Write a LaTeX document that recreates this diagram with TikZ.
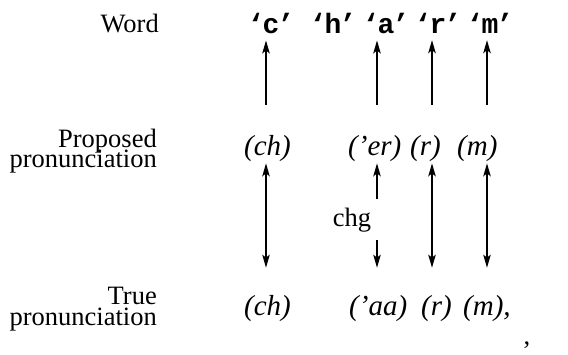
\documentclass[tikz,border=0pt]{standalone}
\usepackage{fontspec}
\setmainfont{Liberation Serif}
\setmonofont{Liberation Mono}
\usetikzlibrary{arrows.meta}
% a quoted character of the word, quotes set a little tighter
\newcommand\quotedchar[1]{‘\kern-1.8pt #1\kern-1.8pt ’}
\begin{document}
\begin{tikzpicture}[x=1pt,y=-1pt,
  rowlabel/.style={font=\fontsize{26.5}{26.5}\selectfont, inner sep=0pt, anchor=base east},
  letter/.style={font=\fontsize{28}{28}\selectfont\ttfamily\bfseries, inner sep=0pt, anchor=base},
  phone/.style={font=\fontsize{29}{29}\selectfont\itshape, inner sep=0pt, anchor=base west},
  note/.style={font=\fontsize{26.5}{26.5}\selectfont, inner sep=0pt, anchor=base},
  tip/.tip={Stealth[length=13pt,width=7.5pt,inset=3pt]},
  upline/.style={line width=1.5pt, -tip},
  downline/.style={line width=1.5pt, -tip},
  bothline/.style={line width=1.5pt, tip-tip}
]
\useasboundingbox (0,0) rectangle (568,354);

% columns of the arrows
\coordinate (colc) at (266,0);
\coordinate (cola) at (377,0);
\coordinate (colr) at (432,0);
\coordinate (colm) at (487,0);

% row labels
\node[rowlabel] (lword) at (159,32) {Word};
\node[rowlabel] (lprop1) at (157,147) {Proposed};
\node[rowlabel] (lprop2) at (157,167) {pronunciation};
\node[rowlabel] (ltrue1) at (157,304) {True};
\node[rowlabel] (ltrue2) at (157,325) {pronunciation};

% letters of the word
\node[letter] (wc) at (271,33) {\quotedchar{c}};
\node[letter] (wh) at (333,33) {\quotedchar{h}};
\node[letter] (wa) at (386,33) {\quotedchar{a}};
\node[letter] (wr) at (438,33) {\quotedchar{r}};
\node[letter] (wm) at (490,33) {\quotedchar{m}};

% proposed pronunciation
\node[phone] (pc) at (244,155) {(ch)};
\node[phone] (pa) at (348,155) {(’er)};
\node[phone] (pr) at (410,155) {(r)};
\node[phone] (pm) at (457,155) {(m)};

% true pronunciation
\node[phone] (tc) at (244,315) {(ch)};
\node[phone] (ta) at (349,315) {(’aa)};
\node[phone] (tr) at (421,315) {(r)};
\node[phone] (tm) at (463,315) {(m),};

% change marker
\node[note] (chg) at (352,226) {chg};
\node[note] (mark) at (527,344) {,};

% proposed -> word
\draw[upline, shorten <=30pt, shorten >=7pt] (pc.north -| colc) -- (wc.south -| colc);
\draw[upline, shorten <=30pt, shorten >=7pt] (pa.north -| cola) -- (wa.south -| cola);
\draw[upline, shorten <=30pt, shorten >=7pt] (pr.north -| colr) -- (wr.south -| colr);
\draw[upline, shorten <=30pt, shorten >=7pt] (pm.north -| colm) -- (wm.south -| colm);

% proposed <-> true
\draw[bothline, shorten <=2pt, shorten >=27pt] (pc.south -| colc) -- (tc.north -| colc);
\draw[bothline, shorten <=2pt, shorten >=27pt] (pr.south -| colr) -- (tr.north -| colr);
\draw[bothline, shorten <=2pt, shorten >=27pt] (pm.south -| colm) -- (tm.north -| colm);

% change link through the marker
\draw[upline, shorten <=8pt, shorten >=2pt] (chg.north -| cola) -- (pa.south -| cola);
\draw[downline, shorten <=8pt, shorten >=27pt] (chg.south -| cola) -- (ta.north -| cola);
\end{tikzpicture}
\end{document}
